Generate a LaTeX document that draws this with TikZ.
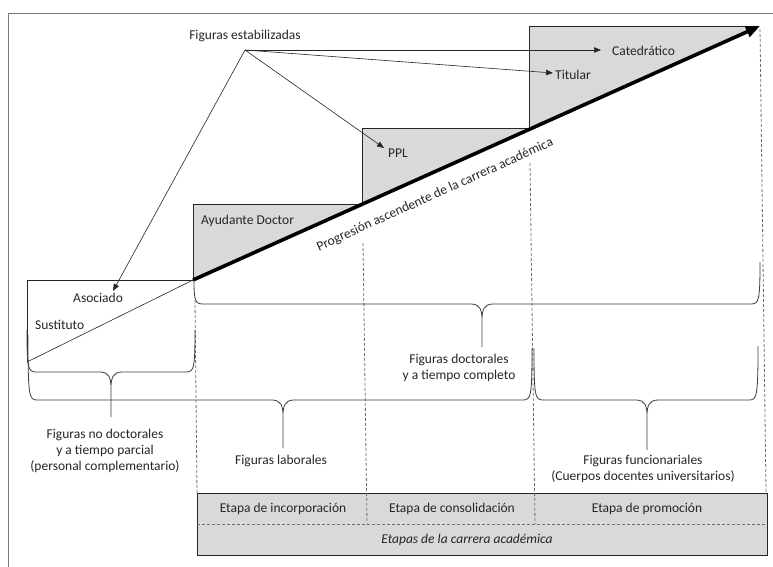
\documentclass[tikz,border=0pt]{standalone}
\usepackage{fontspec}
\setmainfont{Carlito}
\usetikzlibrary{arrows.meta}
\definecolor{fillg}{HTML}{D9D9D9}
\definecolor{ink}{HTML}{262626}
\definecolor{dashg}{HTML}{6E6E6E}
\definecolor{framec}{HTML}{7A7A7A}
\newcommand{\mybrace}[7]{%
  \draw[brace] (#1,#2) .. controls (#1,#5-4) and (#1+1,#5) .. (#1+9,#5)
    -- (#6-11,#5) .. controls (#6-2,#5) and (#6,#5+6) .. (#6,#5+16) -- (#6,#7)
    (#6,#5+16) .. controls (#6,#5+6) and (#6+2,#5) .. (#6+11,#5)
    -- (#3-9,#5) .. controls (#3-1,#5) and (#3,#5-4) .. (#3,#4);}
\begin{document}
\begin{tikzpicture}[x=1pt,y=-1pt,
  font=\fontsize{13.5}{16}\selectfont,
  lbl/.style={inner sep=0pt, text=ink},
  thinarrow/.style={draw=ink, line width=0.6pt, -{Triangle[length=7pt,width=5.5pt]}},
  stepline/.style={draw=ink, line width=0.7pt},
  brace/.style={draw=ink!90, line width=0.8pt, line join=round},
  guide/.style={draw=dashg, line width=0.8pt, dash pattern=on 3pt off 2pt},
]
\useasboundingbox (0,0) rectangle (773,567);
\fill[white] (0,0) rectangle (773,567);
\draw[draw=framec, line width=0.8pt] (8,13) rectangle (800,600);

% shaded parts above the progression line
\fill[fillg] (193,204) -- (362,204) -- (362,204.3) -- (193,280) -- cycle;
\fill[fillg] (362,128) -- (529,128) -- (529,129.5) -- (362,204.3) -- cycle;
\fill[fillg] (529,26) -- (760,26) -- (529,129.5) -- cycle;

% bottom stage box
\draw[draw=ink, fill=fillg, line width=0.7pt] (197,493) rectangle (767,555);
\draw[guide] (197,524) -- (767,524);

% dashed guides
\draw[guide] (195,300) -- (197,493);
\draw[guide] (363,243) -- (367,524);
\draw[guide] (530,163) -- (535,524);
\draw[guide] (760,29) -- (766,493);

% steps
\draw[stepline] (27,362) -- (27,280) -- (193,280);
\draw[stepline] (193,280) -- (193,204) -- (362,204);
\draw[stepline] (362,204) -- (362,128) -- (529,128);
\draw[stepline] (529,129.5) -- (529,26) -- (757,26);

% progression lines
\coordinate (pstart) at (193,280);
\coordinate (pend) at (760,26);
\coordinate (sstart) at (27,362);
\draw[draw=ink, line width=0.6pt] (sstart) -- (pstart);
\draw[draw=black, line width=3.6pt, -{Triangle[length=14pt,width=11pt]}] (pstart) -- (pend);

% braces
\mybrace{27}{330}{195}{330}{372}{111}{417}
\mybrace{28}{335}{532}{348}{400}{283}{448}
\mybrace{194}{280}{760}{262}{304}{482}{347}
\mybrace{534}{348}{758}{346}{400}{647}{450}

% labels of figures
\node[lbl] (fest) at (245,36) {Figuras estabilizadas};
\coordinate (fesrc) at (245,50);
\node[lbl, anchor=west] (cat) at (612,51) {Catedrático};
\node[lbl, anchor=west] (tit) at (555,75) {Titular};
\node[lbl, anchor=west] (ppl) at (388,153) {PPL};
\node[lbl, anchor=west] (ayu) at (201,221) {Ayudante Doctor};
\node[lbl, anchor=west] (aso) at (73,298) {Asociado};
\node[lbl, anchor=west] (sus) at (35,325) {Sustituto};

\coordinate (catin) at (601,50);
\coordinate (titin) at (553,73);
\coordinate (pplin) at (384,148);
\coordinate (asoin) at (113,291);
\draw[thinarrow] (fesrc) -- (catin);
\draw[thinarrow] (fesrc) -- (titin);
\draw[thinarrow] (fesrc) -- (pplin);
\draw[thinarrow] (fesrc) -- (asoin);

\node[lbl, rotate=24.3] (prog) at (435,195) {Progresión ascendente de la carrera académica};

% brace labels
\node[lbl, align=center] (nodoc) at (105,451) {Figuras no doctorales\\y a tiempo parcial\\(personal complementario)};
\node[lbl] (lab) at (281,461) {Figuras laborales};
\node[lbl, align=center] (doc) at (459,368) {Figuras doctorales\\y a tiempo completo};
\node[lbl, align=center] (fun) at (643,469) {Figuras funcionariales\\(Cuerpos docentes universitarios)};

% stages
\node[lbl] (inc) at (283,509) {Etapa de incorporación};
\node[lbl] (con) at (452,509) {Etapa de consolidación};
\node[lbl] (pro) at (647,509) {Etapa de promoción};
\node[lbl] (eta) at (467,540) {\itshape Etapas de la carrera académica};
\end{tikzpicture}
\end{document}
